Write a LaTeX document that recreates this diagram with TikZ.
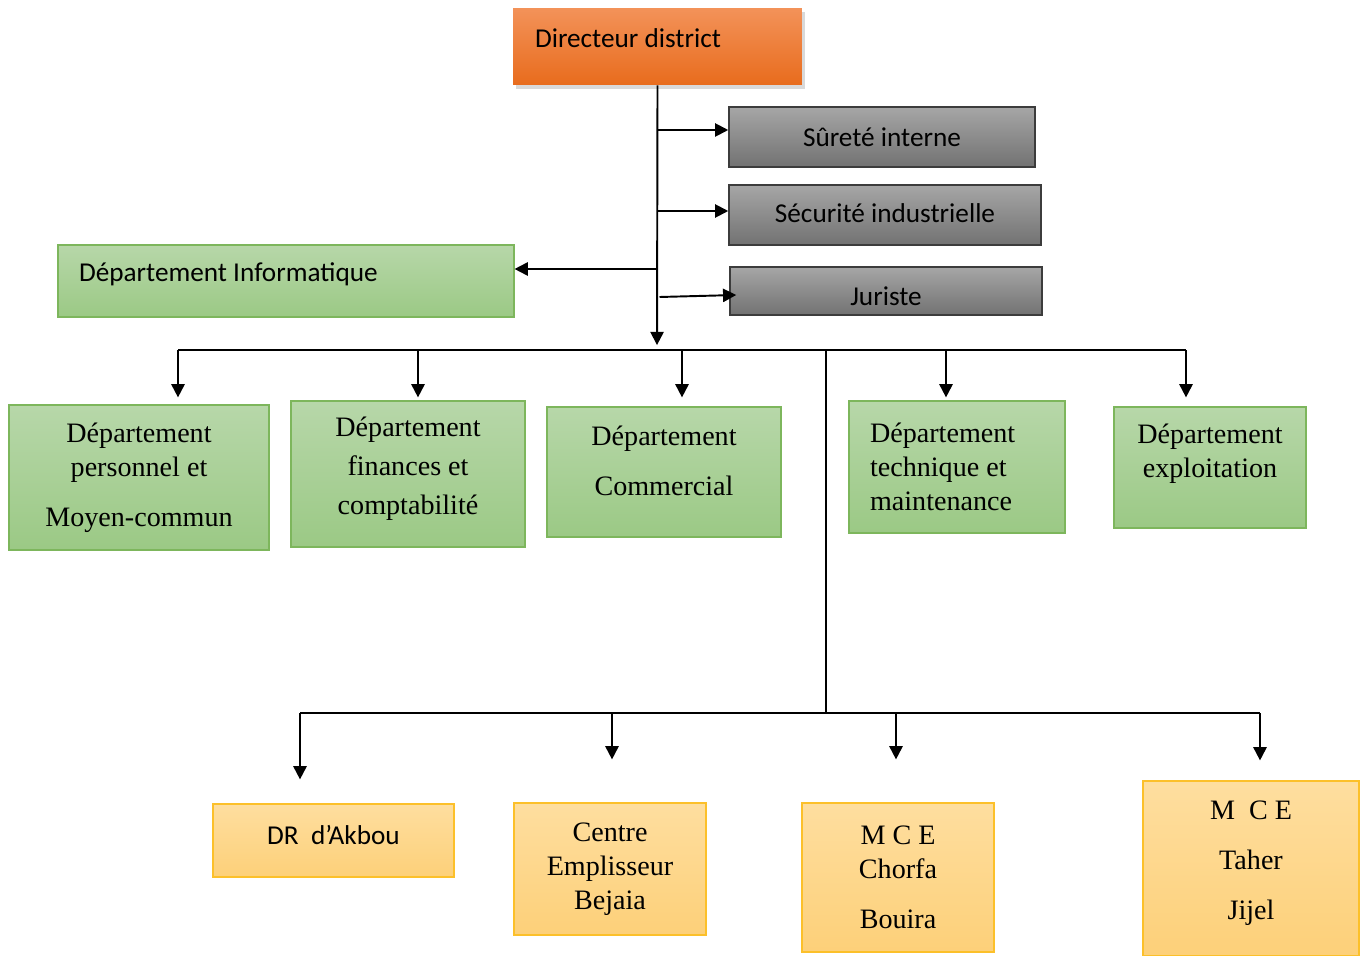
\documentclass[tikz,border=0pt]{standalone}
\usepackage{fontspec}
\setmainfont{Liberation Serif}
\newfontfamily\calibri{Carlito}
\usetikzlibrary{arrows.meta, positioning, shadows, calc}

\definecolor{orangeT}{HTML}{F39259}
\definecolor{orangeB}{HTML}{E86C1D}
\definecolor{grisT}{HTML}{A6A6A6}
\definecolor{grisB}{HTML}{727272}
\definecolor{grisD}{HTML}{3C3C3C}
\definecolor{vertT}{HTML}{B7D7A9}
\definecolor{vertB}{HTML}{9BC985}
\definecolor{vertD}{HTML}{7DB65C}
\definecolor{jauneT}{HTML}{FEDE9F}
\definecolor{jauneB}{HTML}{FDD079}
\definecolor{jauneD}{HTML}{FCC02A}

\newcommand\sansf{\fontsize{15.5}{19}\calibri}
\newcommand\serf{\fontsize{16}{19.5}\selectfont}

\tikzset{
  boite/.style={rectangle, inner sep=0pt, align=center},
  boiteDir/.style={boite, top color=orangeT, bottom color=orangeB, font=\sansf,
    drop shadow={shadow xshift=1.5pt, shadow yshift=-2pt, opacity=0.3}},
  boiteGris/.style={boite, top color=grisT, bottom color=grisB, draw=grisD,
    line width=0.9pt, font=\sansf},
  boiteVert/.style={boite, top color=vertT, bottom color=vertB, draw=vertD,
    line width=0.7pt, font=\serf},
  boiteJaune/.style={boite, top color=jauneT, bottom color=jauneB, draw=jauneD,
    line width=0.7pt, font=\serf},
  lien/.style={line width=1.1pt},
}

\begin{document}
\begin{tikzpicture}[x=0.02cm, y=-0.02cm, >={Triangle[length=7.5pt,width=7.5pt]}]
\useasboundingbox (0,0) rectangle (1365,956);

% direction
\node[boiteDir, minimum width=5.78cm, minimum height=1.54cm] (dir) at (657.5,46.5)
  {\raisebox{0.17cm}[\height][\depth]{\makebox[4.9cm][l]{Directeur district}}};

% services rattaches
\node[boiteGris, minimum width=6.12cm, minimum height=1.2cm] (sur) at (882,137) {S\^ureté interne};
\node[boiteGris, minimum width=6.24cm, minimum height=1.2cm] (sec) at (885,215)
  {\raisebox{0.04cm}[\height][\depth]{Sécurité industrielle}};
\node[boiteGris, minimum width=6.24cm, minimum height=0.96cm] (jur) at (886,291)
  {\raisebox{-0.1cm}[\height][\depth]{Juriste}};
\node[boiteVert, font=\sansf, minimum width=9.12cm, minimum height=1.44cm] (info) at (286,281)
  {\raisebox{0.14cm}[\height][\depth]{\makebox[8.28cm][l]{Département Informatique}}};

% departements
\node[boiteVert, minimum width=5.2cm, minimum height=2.9cm] (pers) at (139,477.5)
  {Département\\personnel et\\[9pt]Moyen-commun};
\node[boiteVert, minimum width=4.68cm, minimum height=2.92cm] (fin) at (408,474)
  {Département\\[2.8pt]finances et\\[2.8pt]comptabilité\\[-10.4pt]\mbox{}};
\node[boiteVert, minimum width=4.68cm, minimum height=2.6cm] (comm) at (664,472)
  {Département\\[9pt]Commercial\\[-7pt]\mbox{}};
\node[boiteVert, minimum width=4.32cm, minimum height=2.64cm] (tech) at (957,467)
  {\makebox[3.48cm][l]{Département}\\\makebox[3.48cm][l]{technique et}\\\makebox[3.48cm][l]{maintenance}};
\node[boiteVert, minimum width=3.84cm, minimum height=2.42cm] (expl) at (1210,467.5)
  {Département\\exploitation\\[0pt]\mbox{}};

% unites
\node[boiteJaune, font=\sansf, minimum width=4.82cm, minimum height=1.46cm] (akb) at (333.5,840.5)
  {\raisebox{0.12cm}[\height][\depth]{DR~~d’Akbou}};
\node[boiteJaune, minimum width=3.84cm, minimum height=2.64cm] (cent) at (610,869)
  {Centre\\Emplisseur\\Bejaia};
\node[boiteJaune, minimum width=3.84cm, minimum height=2.98cm] (chor) at (898,877.5)
  {M C E\\Chorfa\\[9pt]Bouira};
\node[boiteJaune, minimum width=4.32cm, minimum height=3.5cm] (tah) at (1251,868.5)
  {M~~C E\\[9pt]Taher\\[8.5pt]Jijel\\[-10pt]\mbox{}};

% tronc et branches
\coordinate (bus) at (657,350);
\draw[lien, ->, shorten >=2.8pt] (dir.south) -- (bus);
\coordinate (surIn) at ($(sur.west)+(0,-7)$);
\coordinate (secIn) at ($(sec.west)+(0,-4)$);
\coordinate (infoIn) at ($(info.east)+(0,-12)$);
\coordinate (jurIn) at ($(jur.west)+(7,4)$);
\draw[lien, ->] (dir.south |- surIn) -- (surIn);
\draw[lien, ->] (dir.south |- secIn) -- (secIn);
\draw[lien, ->] (dir.south |- infoIn) -- (infoIn);
\draw[lien, ->] ($(dir.south |- jurIn)+(2,2)$) -- (jurIn);

% bus des departements
\coordinate (busL) at (178,350);
\coordinate (busR) at (1186,350);
\draw[lien] (busL) -- (busR);
\foreach \x/\n/\s in {178/pers/7, 418/fin/3, 682/comm/9, 946/tech/3, 1186/expl/9}{
  \coordinate (t) at (\x,350);
  \draw[lien, ->, shorten >=\s*0.02cm] (t) -- (t |- \n.north);
}

% bus des unites
\coordinate (fork) at (826,350);
\coordinate (forkB) at (826,713);
\coordinate (lowL) at (300,713);
\coordinate (lowR) at (1260,713);
\draw[lien] (fork) -- (forkB);
\draw[lien] (lowL) -- (lowR);
\foreach \x/\n/\s in {300/akb/24, 612/cent/43, 896/chor/43, 1260/tah/20}{
  \coordinate (t) at (\x,713);
  \draw[lien, ->, shorten >=\s*0.02cm] (t) -- (t |- \n.north);
}
\end{tikzpicture}
\end{document}
